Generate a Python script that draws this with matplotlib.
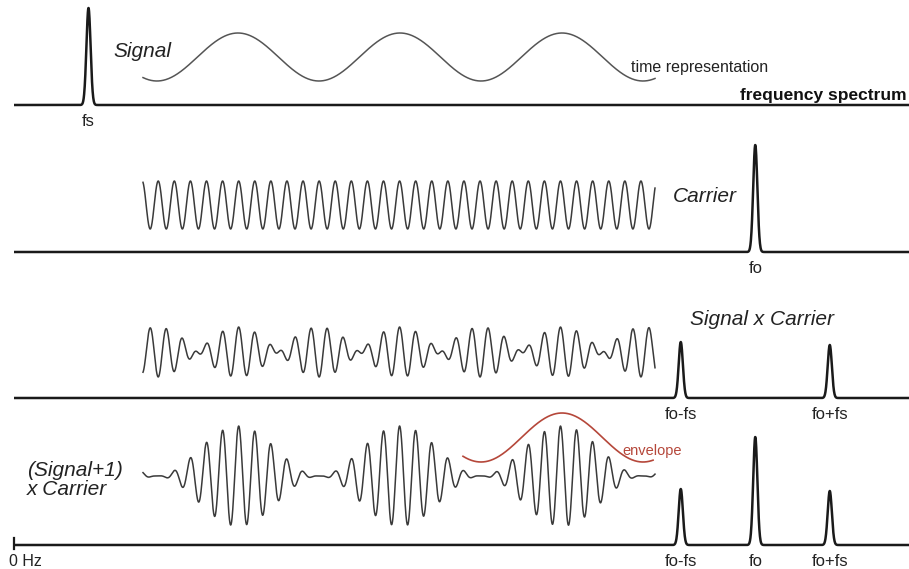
import numpy as np
import matplotlib.pyplot as plt

plt.rcParams['font.family'] = ['Liberation Sans', 'DejaVu Sans']

# Spectrum, frequencies in units of fs
fs = 1.0
fo = 9.95
row_peaks = [[fs], [fo], [fo - fs, fo + fs], [fo - fs, fo, fo + fs]]
row_heights = [[97], [107], [56, 53], [56, 108, 54]]
row_labels = [['fs'], ['fo'], ['fo-fs', 'fo+fs'], ['fo-fs', 'fo', 'fo+fs']]
peak_width = 0.028

# Time waveforms, time in signal periods
t_start, t_end = -0.336, 2.824
carrier_ratio = 10.07
carrier_phase = 0.242
env_start, env_end = 1.639, 2.812

# Layout (pixel rows, x axis in fs units)
baselines = [105, 252, 398, 545]
wave_centers = [57, 205, 352, 476]
wave_amp = 24
x0_px, px_per_fs = 14, 74.5
wave_x0, wave_x1 = 143, 655


def to_x(px):
    return (px - x0_px) / px_per_fs


def t_to_x(tt):
    return to_x(wave_x0) + (tt - t_start) / (t_end - t_start) * (to_x(wave_x1) - to_x(wave_x0))


fig = plt.figure(figsize=(9.09, 5.69), dpi=100)
ax = fig.add_axes([0, 0, 1, 1])
ax.set_xlim(to_x(0), to_x(909))
ax.set_ylim(569, 0)
ax.axis('off')

# Spectra
f = np.linspace(0, to_x(909), 6000)
for base, peaks, heights, labels in zip(baselines, row_peaks, row_heights, row_labels):
    y = np.zeros_like(f)
    for p, h in zip(peaks, heights):
        y += h * np.exp(-0.5 * ((f - p) / peak_width) ** 2)
    ax.plot(f, base - y, color='#1a1a1a', lw=1.8, solid_capstyle='butt')
    for p, lab in zip(peaks, labels):
        ax.text(p, base + 9, lab, ha='center', va='top', fontsize=12, color='#222')

# 0 Hz tick
ax.plot([0, 0], [baselines[3] - 7, baselines[3] + 4], color='#1a1a1a', lw=1.6)
ax.text(to_x(9), baselines[3] + 9, '0 Hz', ha='left', va='top', fontsize=11.5, color='#222')

# Time representations
t = np.linspace(t_start, t_end, 4000)
tx = t_to_x(t)
sig = np.sin(2 * np.pi * t)
car = np.cos(2 * np.pi * carrier_ratio * (t + carrier_phase))
ax.plot(tx, wave_centers[0] - wave_amp * sig, color='#555', lw=1.1)
ax.plot(tx, wave_centers[1] - wave_amp * car, color='#3a3a3a', lw=1.1)
ax.plot(tx, wave_centers[2] - 25 * sig * car, color='#3a3a3a', lw=1.1)
ax.plot(tx, wave_centers[3] - 25 * (1 + sig) * car, color='#3a3a3a', lw=1.1)

# Envelope
te = np.linspace(env_start, env_end, 400)
ax.plot(t_to_x(te), wave_centers[3] - 14 - 24.5 * (1 + np.sin(2 * np.pi * te)),
        color='#b5473a', lw=1.2)
ax.text(to_x(622), 455, 'envelope', ha='left', va='baseline', fontsize=10.5, color='#b5473a')

# Annotations
ax.text(to_x(113), 57, 'Signal', ha='left', va='baseline', fontsize=15, style='italic', color='#222')
ax.text(to_x(631), 72, 'time representation', ha='left', va='baseline', fontsize=11.5, color='#222')
ax.text(to_x(907), 100, 'frequency spectrum', ha='right', va='baseline', fontsize=12.5,
        fontweight='bold', color='#111')
ax.text(to_x(673), 202, 'Carrier', ha='left', va='baseline', fontsize=15, style='italic', color='#222')
ax.text(to_x(690), 325, 'Signal x Carrier', ha='left', va='baseline', fontsize=15, style='italic',
        color='#222')
ax.text(to_x(27), 476, '(Signal+1)', ha='left', va='baseline', fontsize=15, style='italic', color='#222')
ax.text(to_x(27), 495, 'x Carrier', ha='left', va='baseline', fontsize=15, style='italic', color='#222')

fig.savefig('out.png', dpi=100)
